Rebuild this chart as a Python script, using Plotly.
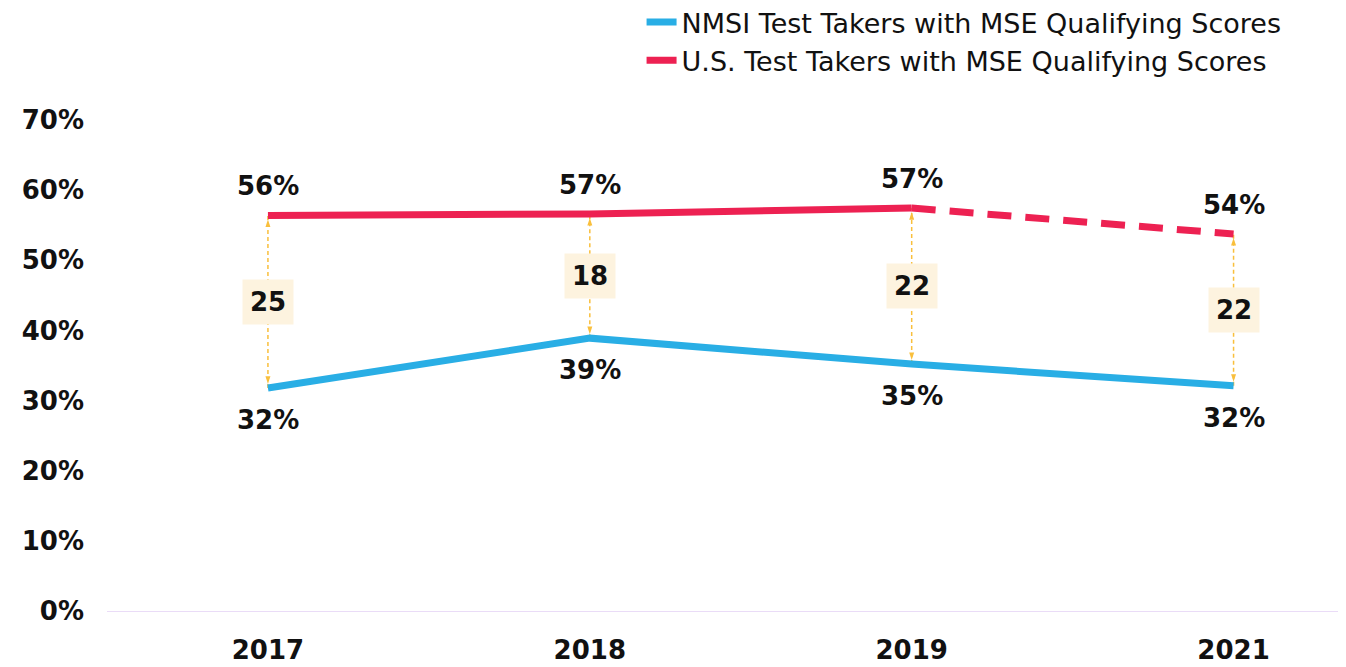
import plotly.graph_objects as go

years = ["2017", "2018", "2019", "2021"]
nmsi = [31.8, 38.9, 35.2, 32.1]
us = [56.4, 56.6, 57.45, 53.75]
nmsi_labels = ["32%", "39%", "35%", "32%"]
us_labels = ["56%", "57%", "57%", "54%"]
gaps = [25, 18, 22, 22]
y_ticks = [0, 10, 20, 30, 40, 50, 60, 70]
y_tick_labels = ["0%", "10%", "20%", "30%", "40%", "50%", "60%", "70%"]

BLUE = "#29aee5"
RED = "#ed2152"
GOLD = "#f9bf3c"
CREAM = "#fdf3df"
FONT = "DejaVu Sans"
INK = "#111111"

fig = go.Figure()

# gap connectors with arrowheads
for i, yr in enumerate(years):
    fig.add_trace(go.Scatter(
        x=[yr, yr], y=[nmsi[i], us[i]],
        mode="lines+markers",
        line=dict(color=GOLD, width=1.5, dash="4px,3px"),
        marker=dict(symbol="arrow", size=8, color=GOLD, angle=[180, 0], standoff=4),
        showlegend=False, hoverinfo="skip",
    ))

fig.add_trace(go.Scatter(
    x=years, y=nmsi, mode="lines", name="NMSI Test Takers with MSE Qualifying Scores",
    line=dict(color=BLUE, width=7),
))
fig.add_trace(go.Scatter(
    x=years[:3], y=us[:3], mode="lines", name="U.S. Test Takers with MSE Qualifying Scores",
    line=dict(color=RED, width=7),
))
fig.add_trace(go.Scatter(
    x=years[2:], y=us[2:], mode="lines", showlegend=False,
    line=dict(color=RED, width=7, dash="24px,14px"),
))

bold = dict(family=FONT, size=26, color=INK, weight="bold")
annotations = []
for i, yr in enumerate(years):
    annotations.append(dict(x=i, y=us[i], xref="x", yref="y", text=us_labels[i],
                            showarrow=False, yshift=29, font=bold))
    annotations.append(dict(x=i, y=nmsi[i], xref="x", yref="y", text=nmsi_labels[i],
                            showarrow=False, yshift=-32, font=bold))
    annotations.append(dict(x=i, y=(nmsi[i] + us[i]) / 2, xref="x", yref="y", text=str(gaps[i]),
                            showarrow=False, bgcolor=CREAM, borderpad=7, font=bold))

fig.update_layout(
    width=1338, height=659,
    margin=dict(l=99, r=3, t=112, b=56, autoexpand=False),
    paper_bgcolor="white", plot_bgcolor="white",
    font=dict(family=FONT, color=INK),
    showlegend=True,
    legend=dict(x=0.4325, y=1.2485, xanchor="left", yanchor="top",
                font=dict(family=FONT, size=27, color=INK),
                bgcolor="rgba(0,0,0,0)"),
    annotations=annotations,
    xaxis=dict(type="category", range=[-0.5, 3.34], showgrid=False, zeroline=False,
               showline=True, linecolor="#eadcf7", linewidth=1,
               tickfont=bold, ticks="", ticklabelstandoff=16),
    yaxis=dict(range=[0, 70], tickvals=y_ticks, ticktext=y_tick_labels, showgrid=False,
               zeroline=False, showline=False,
               tickfont=bold, ticks="", ticklabelstandoff=22),
)

fig.write_html("out.html")
